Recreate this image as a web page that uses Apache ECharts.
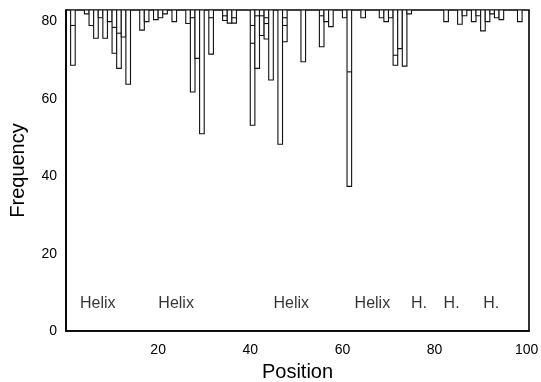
<!DOCTYPE html>
<html><head><meta charset="utf-8">
<script src="https://cdn.jsdelivr.net/npm/echarts@6/dist/echarts.min.js"></script>
<style>html,body{margin:0;padding:0;background:#fff}#c{width:541px;height:382px}</style>
</head><body><div id="c"></div>
<script>
// Sequence positions (bin start) and the frequency each bar hangs down to
const positions   = [1, 4, 5, 6, 7, 8, 9, 10, 11, 12, 13, 16, 17, 19, 20, 21, 23, 26, 27, 28, 29, 31, 34, 35, 36, 40, 41, 42, 43, 44, 46, 47, 51, 55, 56, 57, 60, 61, 64, 68, 69, 70, 71, 72, 73, 74, 82, 85, 86, 88, 89, 90, 91, 92, 93, 94, 98];
const frequencies = [68.7, 82, 79, 75.7, 81, 75.7, 80, 71.8, 67.9, 76, 63.8, 77.8, 80, 80.5, 81, 82, 80, 79.5, 61.8, 70.5, 51, 71.6, 80.3, 79.6, 79.6, 53.2, 67.9, 76.4, 75.5, 64.9, 48.3, 74.8, 69.6, 73.5, 80, 78.7, 81, 37.4, 81, 81, 80, 81, 68.7, 73, 68.5, 82, 80, 79.3, 81.5, 80, 81.5, 77.6, 80, 82, 81, 80.5, 80];
// Secondary levels drawn inside bars
const innerPositions = [1, 10, 11, 27, 31, 34, 36, 40, 40, 41, 42, 43, 43, 47, 47, 55, 61, 71];
const innerLevels    = [79, 78.5, 77, 81, 81, 81.5, 81, 79, 74.4, 81.5, 81.5, 81, 79.5, 81, 79, 81.5, 67, 71.3];
// Secondary-structure annotations
const helixNames = ['Helix', 'Helix', 'Helix', 'Helix', 'H.', 'H.', 'H.'];
const helixX     = [6.9, 23.9, 48.9, 66.5, 76.6, 83.7, 92.3];
const helixY     = [7.1, 7.1, 7.1, 7.1, 7.1, 7.1, 7.1];
const TOP = 83;

const FONT = "'Liberation Sans', Arial, Helvetica, sans-serif";
const chart = echarts.init(document.getElementById('c'), null, {renderer: 'canvas'});

const barData = positions.map((p, i) => [p, frequencies[i]]);
const innerData = innerPositions.map((p, i) => [p, innerLevels[i]]);

chart.setOption({
  animation: false,
  backgroundColor: '#fff',
  grid: {left: 66, right: 12, top: 10, bottom: 51, containLabel: false, outerBoundsMode: 'none',
    show: true, borderColor: '#000', borderWidth: 1.6, backgroundColor: 'transparent'},
  xAxis: {
    type: 'value', min: 0, max: 100.5, interval: 20,
    axisLine: {show: true, lineStyle: {color: '#000', width: 1.6}},
    axisTick: {show: false}, splitLine: {show: false},
    axisLabel: {showMinLabel: false, showMaxLabel: false, fontSize: 14, color: '#000', fontFamily: FONT, margin: 12},
    name: 'Position', nameLocation: 'middle', nameGap: 31,
    nameTextStyle: {fontSize: 20, color: '#000', fontFamily: FONT}
  },
  yAxis: {
    type: 'value', min: 0, max: TOP, interval: 20,
    axisLine: {show: true, lineStyle: {color: '#000', width: 1.6}},
    axisTick: {show: false}, splitLine: {show: false},
    axisLabel: {showMaxLabel: false, fontSize: 14, color: '#000', fontFamily: FONT, margin: 9},
    name: 'Frequency', nameLocation: 'middle', nameGap: 38,
    nameTextStyle: {fontSize: 20, color: '#000', fontFamily: FONT}
  },
  series: [
    {
      type: 'custom', data: barData, clip: true,
      renderItem: function (params, api) {
        const p = api.value(0), v = api.value(1);
        const a = api.coord([p, TOP]);
        const b = api.coord([p + 1, v]);
        return {type: 'rect', shape: {x: a[0], y: a[1], width: b[0] - a[0], height: b[1] - a[1]},
          style: {fill: '#fff', stroke: '#111', lineWidth: 1.1}};
      }
    },
    {
      type: 'custom', data: innerData, clip: true,
      renderItem: function (params, api) {
        const p = api.value(0), v = api.value(1);
        const a = api.coord([p, v]);
        const b = api.coord([p + 1, v]);
        return {type: 'line', shape: {x1: a[0], y1: a[1], x2: b[0], y2: b[1]},
          style: {stroke: '#111', lineWidth: 1.1}};
      }
    },
    {
      type: 'scatter', symbolSize: 0, silent: true,
      data: helixX.map((x, i) => ({value: [x, helixY[i]], name: helixNames[i]})),
      label: {show: true, position: 'inside', formatter: '{b}', fontSize: 16, color: '#000', fontFamily: FONT}
    }
  ]
});
</script></body></html>
